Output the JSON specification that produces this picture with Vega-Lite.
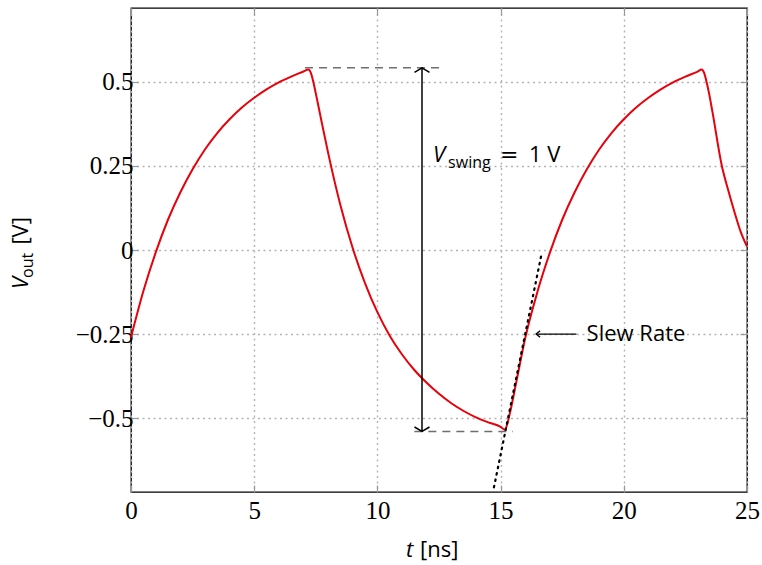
{
  "$schema": "https://vega.github.io/schema/vega-lite/v6.json",
  "width": 616,
  "height": 484,
  "autosize": "none",
  "padding": {"left": 131, "top": 8, "right": 15, "bottom": 73},
  "background": "white",
  "config": {
    "view": {"stroke": "#000", "strokeWidth": 1.3},
    "axis": {
      "domain": false,
      "gridColor": "#b4b4b4",
      "gridDash": [2, 3.5],
      "gridWidth": 1.4,
      "tickColor": "#999",
      "tickSize": -7,
      "tickWidth": 1.2,
      "labelFont": "Liberation Serif",
      "labelFontSize": 25,
      "labelColor": "#000",
      "labelFlush": false,
      "labelOverlap": false
    },
    "text": {"font": "Open Sans", "color": "#000"}
  },
  "datasets": {
    "curve": [
      {"t": 0.0, "v": -0.26},
      {"t": 0.5, "v": -0.123},
      {"t": 1.0, "v": -0.008},
      {"t": 1.5, "v": 0.09},
      {"t": 2.0, "v": 0.171},
      {"t": 2.5, "v": 0.24},
      {"t": 3.0, "v": 0.299},
      {"t": 3.5, "v": 0.348},
      {"t": 4.0, "v": 0.389},
      {"t": 4.5, "v": 0.424},
      {"t": 5.0, "v": 0.453},
      {"t": 5.5, "v": 0.478},
      {"t": 6.0, "v": 0.499},
      {"t": 6.5, "v": 0.516},
      {"t": 7.0, "v": 0.531},
      {"t": 7.2, "v": 0.537},
      {"t": 7.3, "v": 0.527},
      {"t": 7.4, "v": 0.5},
      {"t": 7.5, "v": 0.466},
      {"t": 7.67, "v": 0.405},
      {"t": 8.0, "v": 0.289},
      {"t": 8.5, "v": 0.133},
      {"t": 9.0, "v": 0.005},
      {"t": 9.5, "v": -0.099},
      {"t": 10.0, "v": -0.185},
      {"t": 10.5, "v": -0.255},
      {"t": 11.0, "v": -0.311},
      {"t": 11.5, "v": -0.357},
      {"t": 12.0, "v": -0.395},
      {"t": 12.5, "v": -0.428},
      {"t": 13.0, "v": -0.456},
      {"t": 13.5, "v": -0.479},
      {"t": 14.0, "v": -0.498},
      {"t": 14.5, "v": -0.513},
      {"t": 15.0, "v": -0.526},
      {"t": 15.18, "v": -0.535},
      {"t": 15.28, "v": -0.515},
      {"t": 15.4, "v": -0.478},
      {"t": 15.65, "v": -0.388},
      {"t": 16.0, "v": -0.262},
      {"t": 16.5, "v": -0.123},
      {"t": 17.0, "v": -0.008},
      {"t": 17.5, "v": 0.09},
      {"t": 18.0, "v": 0.171},
      {"t": 18.5, "v": 0.24},
      {"t": 19.0, "v": 0.299},
      {"t": 19.5, "v": 0.348},
      {"t": 20.0, "v": 0.389},
      {"t": 20.5, "v": 0.424},
      {"t": 21.0, "v": 0.453},
      {"t": 21.5, "v": 0.478},
      {"t": 22.0, "v": 0.499},
      {"t": 22.5, "v": 0.516},
      {"t": 23.0, "v": 0.531},
      {"t": 23.16, "v": 0.537},
      {"t": 23.26, "v": 0.527},
      {"t": 23.36, "v": 0.5},
      {"t": 23.46, "v": 0.466},
      {"t": 23.6, "v": 0.41},
      {"t": 23.98, "v": 0.25},
      {"t": 24.25, "v": 0.175},
      {"t": 24.5, "v": 0.111},
      {"t": 24.75, "v": 0.053},
      {"t": 25.0, "v": 0.01}
    ],
    "dashes": [
      {"t1": 7.06, "t2": 12.5, "v": 0.542},
      {"t1": 11.5, "t2": 15.5, "v": -0.54}
    ],
    "swing": [{"t": 11.81, "v1": 0.542, "v2": -0.54}],
    "headUp": [{"t": 11.81, "v": 0.542}],
    "headDown": [{"t": 11.81, "v": -0.54}],
    "slewLine": [{"t1": 14.73, "v1": -0.706, "t2": 16.67, "v2": -0.009}],
    "slewArrow": [{"t1": 16.44, "t2": 18.08, "v": -0.25}],
    "headLeft": [{"t": 16.44, "v": -0.25}],
    "bigText": [
      {"t": 16.15, "v": 0.262, "label": "1 V"},
      {"t": 11.73, "v": -0.914, "label": "[ns]"}
    ],
    "eqText": [{"t": 14.98, "v": 0.262, "label": "="}],
    "italicText": [
      {"t": 12.26, "v": 0.262, "label": "V"},
      {"t": 11.16, "v": -0.914, "label": "t"}
    ],
    "subText": [{"t": 12.87, "v": 0.245, "label": "swing"}],
    "slewText": [{"t": 18.49, "v": -0.25, "label": "Slew Rate"}],
    "yTitleItalic": [{"t": -4.18, "v": -0.116, "label": "V"}],
    "yTitleSub": [{"t": -3.98, "v": -0.083, "label": "out"}],
    "yTitleBig": [{"t": -4.18, "v": 0.016, "label": "[V]"}]
  },
  "layer": [
    {
      "data": {"name": "curve"},
      "mark": {"type": "line", "color": "#e8000b", "strokeWidth": 2, "interpolate": "monotone"},
      "encoding": {
        "x": {"field": "t", "type": "quantitative", "scale": {"domain": [0, 25], "nice": false, "zero": false},
          "axis": {"orient": "bottom", "values": [0, 5, 10, 15, 20, 25], "title": null, "grid": true, "labelPadding": 13, "format": "d"}},
        "y": {"field": "v", "type": "quantitative", "scale": {"domain": [-0.72, 0.72], "nice": false, "zero": false},
          "axis": {"orient": "left", "values": [-0.5, -0.25, 0, 0.25, 0.5], "title": null, "grid": true, "labelPadding": 5, "format": ".2~f"}}
      }
    },
    {
      "data": {"name": "dashes"},
      "mark": {"type": "rule", "color": "#6e6e6e", "strokeWidth": 1.5, "strokeDash": [8, 6]},
      "encoding": {
        "x": {"field": "t1", "type": "quantitative",
          "axis": {"orient": "top", "values": [0, 5, 10, 15, 20, 25], "title": null, "grid": false, "labels": false}},
        "x2": {"field": "t2"},
        "y": {"field": "v", "type": "quantitative",
          "axis": {"orient": "right", "values": [-0.5, -0.25, 0, 0.25, 0.5], "title": null, "grid": false, "labels": false}}
      }
    },
    {
      "data": {"name": "swing"},
      "mark": {"type": "rule", "color": "#000", "strokeWidth": 1.5},
      "encoding": {
        "x": {"field": "t", "type": "quantitative", "axis": null},
        "y": {"field": "v1", "type": "quantitative", "axis": null},
        "y2": {"field": "v2"}
      }
    },
    {
      "data": {"name": "headUp"},
      "mark": {"type": "point", "shape": "M-1,0.6L0,0L1,0.6", "size": 225, "filled": false, "stroke": "#000", "strokeWidth": 1.5, "opacity": 1},
      "encoding": {
        "x": {"field": "t", "type": "quantitative", "axis": null},
        "y": {"field": "v", "type": "quantitative", "axis": null}
      }
    },
    {
      "data": {"name": "headDown"},
      "mark": {"type": "point", "shape": "M-1,-0.6L0,0L1,-0.6", "size": 225, "filled": false, "stroke": "#000", "strokeWidth": 1.5, "opacity": 1},
      "encoding": {
        "x": {"field": "t", "type": "quantitative", "axis": null},
        "y": {"field": "v", "type": "quantitative", "axis": null}
      }
    },
    {
      "data": {"name": "slewLine"},
      "mark": {"type": "rule", "color": "#000", "strokeWidth": 2.2, "strokeDash": [1.5, 5], "strokeCap": "round"},
      "encoding": {
        "x": {"field": "t1", "type": "quantitative", "axis": null},
        "y": {"field": "v1", "type": "quantitative", "axis": null},
        "x2": {"field": "t2"},
        "y2": {"field": "v2"}
      }
    },
    {
      "data": {"name": "slewArrow"},
      "mark": {"type": "rule", "color": "#000", "strokeWidth": 1.3},
      "encoding": {
        "x": {"field": "t1", "type": "quantitative", "axis": null},
        "x2": {"field": "t2"},
        "y": {"field": "v", "type": "quantitative", "axis": null}
      }
    },
    {
      "data": {"name": "headLeft"},
      "mark": {"type": "point", "shape": "M1,-0.8L0,0L1,0.8", "size": 64, "filled": false, "stroke": "#000", "strokeWidth": 1.3, "opacity": 1},
      "encoding": {
        "x": {"field": "t", "type": "quantitative", "axis": null},
        "y": {"field": "v", "type": "quantitative", "axis": null}
      }
    },
    {
      "data": {"name": "bigText"},
      "mark": {"type": "text", "fontSize": 22, "align": "left", "baseline": "alphabetic"},
      "encoding": {
        "x": {"field": "t", "type": "quantitative", "axis": null},
        "y": {"field": "v", "type": "quantitative", "axis": null},
        "text": {"field": "label"}
      }
    },
    {
      "data": {"name": "eqText"},
      "mark": {"type": "text", "font": "DejaVu Sans", "fontSize": 22, "align": "left", "baseline": "alphabetic"},
      "encoding": {
        "x": {"field": "t", "type": "quantitative", "axis": null},
        "y": {"field": "v", "type": "quantitative", "axis": null},
        "text": {"field": "label"}
      }
    },
    {
      "data": {"name": "italicText"},
      "mark": {"type": "text", "fontSize": 22, "fontStyle": "italic", "align": "left", "baseline": "alphabetic"},
      "encoding": {
        "x": {"field": "t", "type": "quantitative", "axis": null},
        "y": {"field": "v", "type": "quantitative", "axis": null},
        "text": {"field": "label"}
      }
    },
    {
      "data": {"name": "subText"},
      "mark": {"type": "text", "fontSize": 16, "align": "left", "baseline": "alphabetic"},
      "encoding": {
        "x": {"field": "t", "type": "quantitative", "axis": null},
        "y": {"field": "v", "type": "quantitative", "axis": null},
        "text": {"field": "label"}
      }
    },
    {
      "data": {"name": "slewText"},
      "mark": {"type": "text", "fontSize": 22, "align": "left", "baseline": "middle"},
      "encoding": {
        "x": {"field": "t", "type": "quantitative", "axis": null},
        "y": {"field": "v", "type": "quantitative", "axis": null},
        "text": {"field": "label"}
      }
    },
    {
      "data": {"name": "yTitleItalic"},
      "mark": {"type": "text", "fontSize": 22, "fontStyle": "italic", "angle": 270, "align": "left", "baseline": "alphabetic"},
      "encoding": {
        "x": {"field": "t", "type": "quantitative", "axis": null},
        "y": {"field": "v", "type": "quantitative", "axis": null},
        "text": {"field": "label"}
      }
    },
    {
      "data": {"name": "yTitleSub"},
      "mark": {"type": "text", "fontSize": 16, "angle": 270, "align": "left", "baseline": "alphabetic"},
      "encoding": {
        "x": {"field": "t", "type": "quantitative", "axis": null},
        "y": {"field": "v", "type": "quantitative", "axis": null},
        "text": {"field": "label"}
      }
    },
    {
      "data": {"name": "yTitleBig"},
      "mark": {"type": "text", "fontSize": 22, "angle": 270, "align": "left", "baseline": "alphabetic"},
      "encoding": {
        "x": {"field": "t", "type": "quantitative", "axis": null},
        "y": {"field": "v", "type": "quantitative", "axis": null},
        "text": {"field": "label"}
      }
    }
  ],
  "resolve": {"axis": {"x": "independent", "y": "independent"}}
}
